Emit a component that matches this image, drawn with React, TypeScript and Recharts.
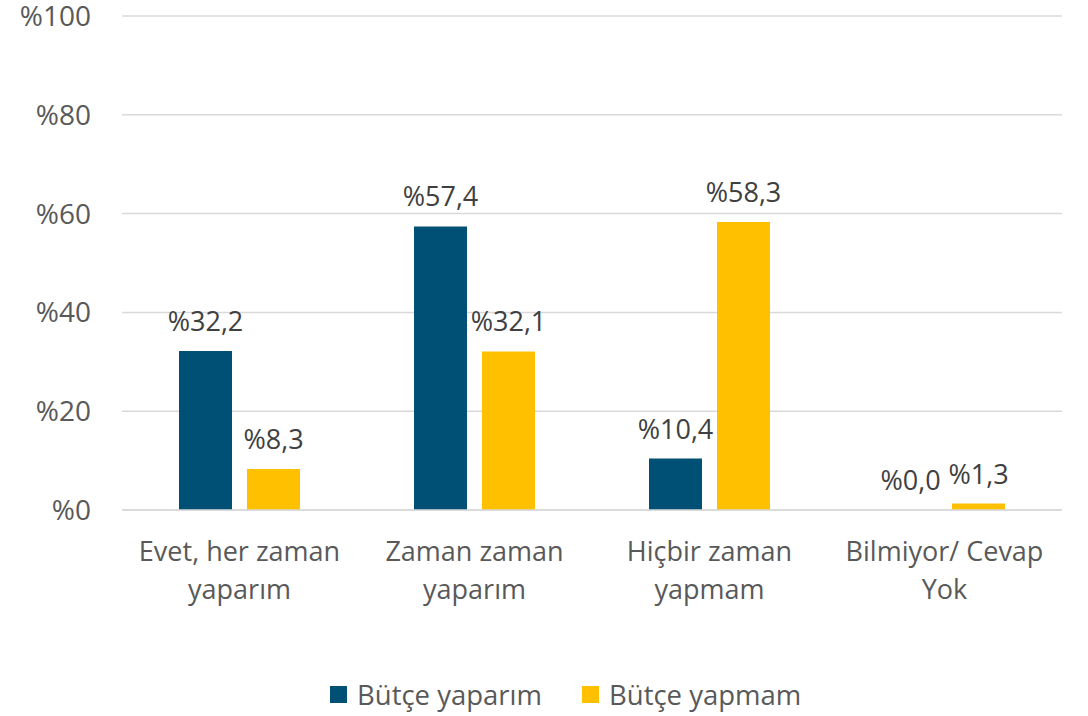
import React from 'react'
import { BarChart, Bar, XAxis, YAxis, CartesianGrid, LabelList, Legend } from 'recharts'

const categories = ['Evet, her zaman\nyaparım', 'Zaman zaman\nyaparım', 'Hiçbir zaman\nyapmam', 'Bilmiyor/ Cevap\nYok']
const butceYaparim = [32.2, 57.4, 10.4, 0.0]
const butceYapmam = [8.3, 32.1, 58.3, 1.3]
const yTicks = [0, 20, 40, 60, 80, 100]
const seriesNames = ['Bütçe yaparım', 'Bütçe yapmam']

const BLUE = '#004F75'
const YELLOW = '#FFC000'
const FONT = '"Open Sans", sans-serif'

const data = categories.map((c, i) => ({ name: c, a: butceYaparim[i], b: butceYapmam[i] }))

const pct = (v: number) => '%' + v.toFixed(1).replace('.', ',')

function CategoryTick({ x, y, payload }: any) {
  const lines = String(payload.value).split('\n')
  return (
    <text x={x} y={y} textAnchor="middle" fill="#595959" fontSize={27} fontFamily={FONT}>
      {lines.map((l, i) => (
        <tspan key={i} x={x} dy={i === 0 ? 43 : 38}>{l}</tspan>
      ))}
    </text>
  )
}

function LegendContent() {
  const colors = [BLUE, YELLOW]
  return (
    <div style={{ display: 'flex', alignItems: 'center', fontFamily: FONT, fontSize: 27.5, color: '#595959' }}>
      {seriesNames.map((n, i) => (
        <div key={n} style={{ display: 'flex', alignItems: 'center', marginRight: i === 0 ? 40 : 0 }}>
          <span style={{ width: 17, height: 17, background: colors[i], display: 'inline-block', marginRight: 10 }} />
          <span>{n}</span>
        </div>
      ))}
    </div>
  )
}

export default function App() {
  return (
    <div style={{ position: 'absolute', left: 0, top: 0, background: '#fff' }}>
      <BarChart
        width={1088}
        height={716}
        data={data}
        margin={{ top: 16, right: 26, bottom: 70, left: 0 }}
        barSize={53}
        barGap={15}
      >
        <CartesianGrid vertical={false} stroke="#D9D9D9" strokeWidth={1.5} />
        <XAxis
          dataKey="name"
          axisLine={{ stroke: '#D9D9D9', strokeWidth: 1.5 }}
          tickLine={false}
          tick={<CategoryTick />}
          interval={0}
          height={100}
        />
        <YAxis
          domain={[0, 100]}
          ticks={yTicks}
          width={122}
          axisLine={false}
          tickLine={false}
          tickSize={0}
          tickMargin={31}
          tickFormatter={(v: number) => '%' + v}
          tick={{ fill: '#595959', fontSize: 28, fontFamily: FONT }}
        />
        <Legend
          content={<LegendContent />}
          height={36}
          wrapperStyle={{ position: 'absolute', left: 330, top: 676, width: 'auto' }}
        />
        <Bar dataKey="a" name={seriesNames[0]} fill={BLUE} minPointSize={0.01} isAnimationActive={false}>
          <LabelList dataKey="a" position="top" offset={20} formatter={(v: any) => pct(Number(v))} fill="#404040" fontSize={27} fontFamily={FONT} />
        </Bar>
        <Bar dataKey="b" name={seriesNames[1]} fill={YELLOW} isAnimationActive={false}>
          <LabelList dataKey="b" position="top" offset={20} formatter={(v: any) => pct(Number(v))} fill="#404040" fontSize={27} fontFamily={FONT} />
        </Bar>
      </BarChart>
    </div>
  )
}
